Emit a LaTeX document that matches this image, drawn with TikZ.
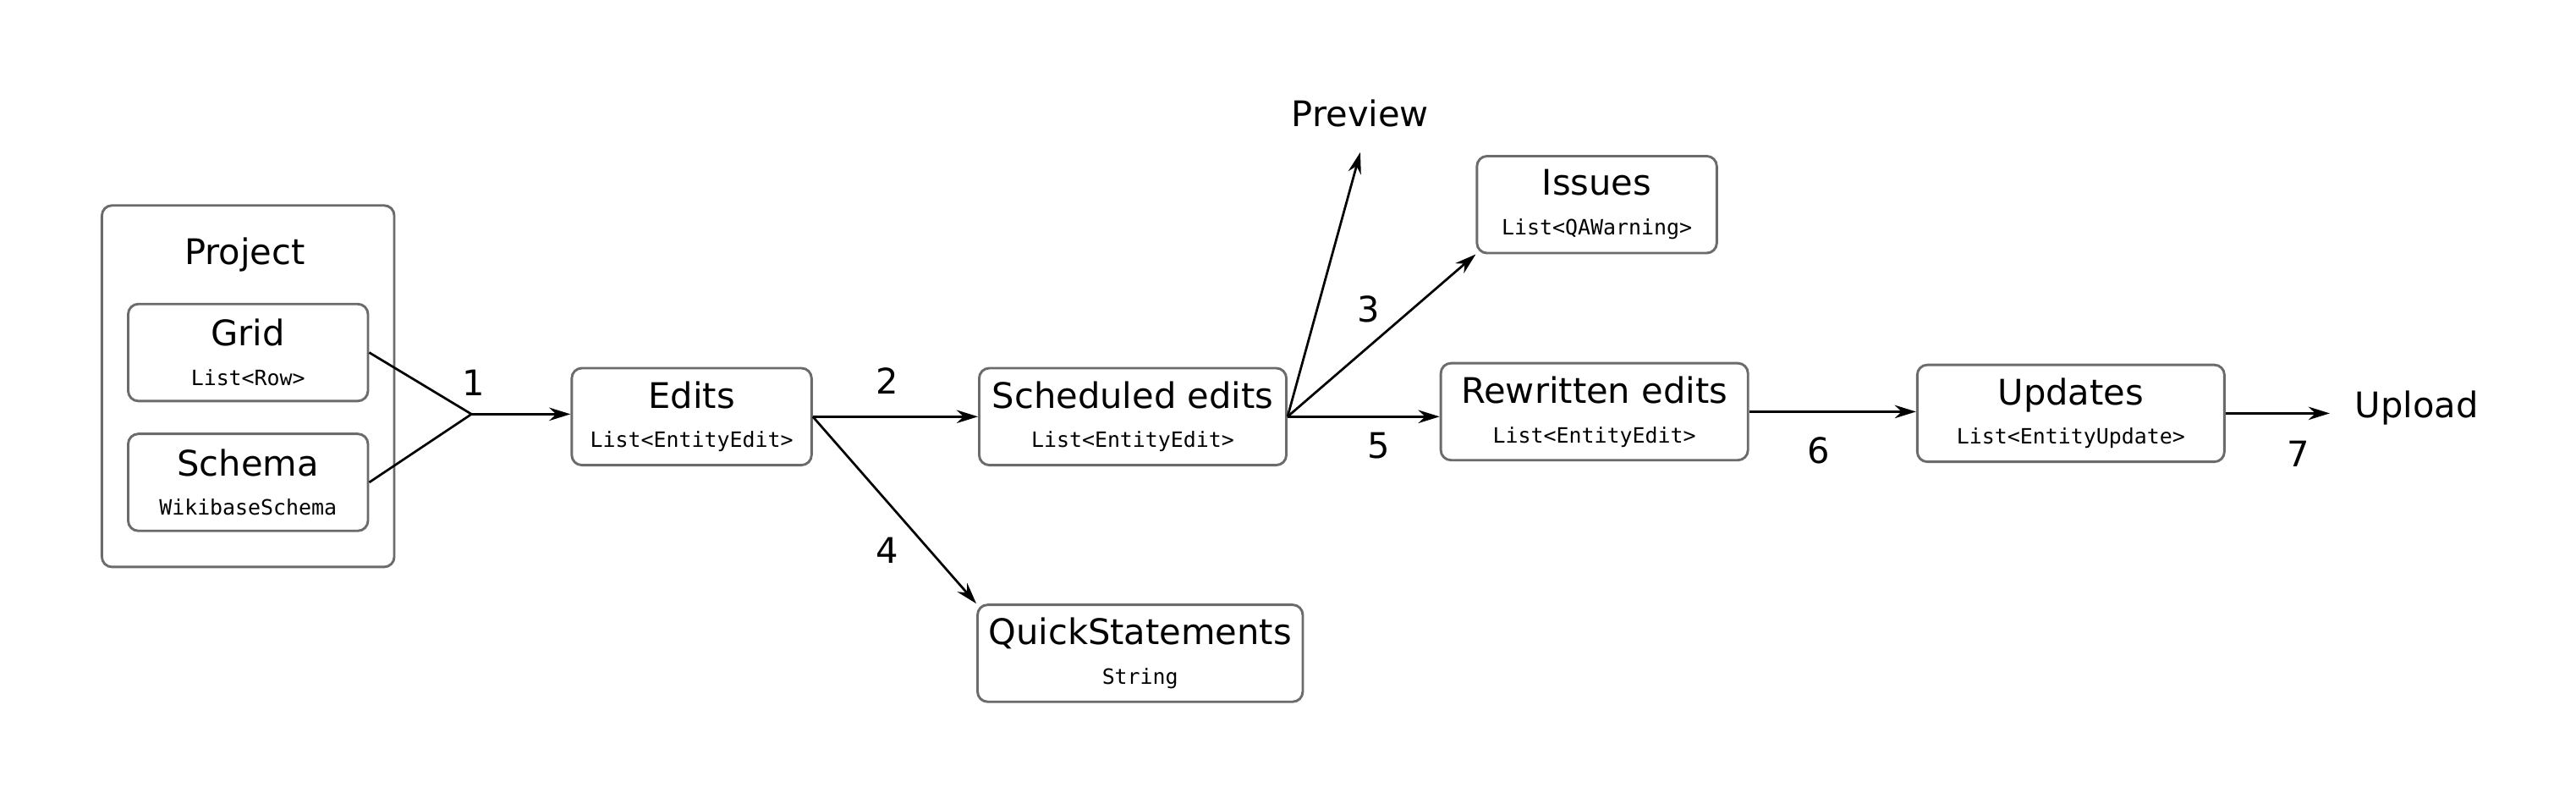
\documentclass[tikz,border=0pt]{standalone}
\usepackage{fontspec}
\setmainfont{DejaVu Sans}
\newfontfamily\typefont{DejaVu Sans Mono}
\usetikzlibrary{arrows.meta}
\newcommand{\typelabel}[1]{{\typefont\fontsize{7.3}{9}\selectfont #1}}
\tikzset{
  databox/.style={draw=black!58,line width=0.85pt,rounded corners=3.5pt,minimum width=2.92cm,minimum height=1.18cm,align=center,inner sep=0pt,font=\fontsize{12.2}{13.7}\selectfont},
  groupbox/.style={draw=black!58,line width=0.85pt,rounded corners=3.5pt},
  flow/.style={-{Stealth[length=2.6mm,width=1.6mm]},line width=0.8pt},
  link/.style={line width=0.8pt},
  num/.style={font=\fontsize{12.2}{14}\selectfont},
  endtext/.style={font=\fontsize{12.2}{14}\selectfont,inner sep=3mm}
}
\begin{document}
\begin{tikzpicture}[x=0.02cm,y=-0.02cm]
\useasboundingbox (0,0) rectangle (1568,489);

\node[groupbox,minimum width=3.56cm,minimum height=4.4cm] (project) at (151,235) {};
\node[num] (projecttitle) at (149,155) {Project};
\node[databox] (grid) at (151,214.5) {Grid\\\typelabel{List<Row>}};
\node[databox] (schema) at (151,293.5) {Schema\\\typelabel{WikibaseSchema}};

\node[databox] (edits) at (421,253.5) {Edits\\\typelabel{List<EntityEdit>}};
\node[databox,minimum width=3.74cm] (sched) at (689.5,253.5) {Scheduled edits\\\typelabel{List<EntityEdit>}};
\node[databox,minimum width=3.96cm] (qs) at (694,397.5) {QuickStatements\\\typelabel{String}};
\node[databox] (issues) at (972,124.5) {Issues\\\typelabel{List<QAWarning>}};
\node[databox,minimum width=3.74cm] (rewritten) at (970.5,250.5) {Rewritten edits\\\typelabel{List<EntityEdit>}};
\node[databox,minimum width=3.74cm] (updates) at (1260.5,251.5) {Updates\\\typelabel{List<EntityUpdate>}};
\node[endtext] (preview) at (828,69) {Preview};
\node[endtext] (upload) at (1471,248) {Upload};

\coordinate (join) at (287,252);
\draw[link] (grid.east) -- (join) -- (schema.east);
\draw[flow] (join) -- (join -| edits.west);
\draw[flow] (edits.east) -- (sched.west);
\draw[flow] (edits.east) -- (qs.north west);
\draw[flow] (sched.east) -- (preview.south);
\draw[flow] (sched.east) -- (issues.south west);
\draw[flow] (sched.east) -- (sched.east -| rewritten.west);
\draw[flow] (rewritten.east) -- (rewritten.east -| updates.west);
\draw[flow] (updates.east) -- (updates.east -| upload.west);

\node[num] (n1) at (288,233) {1};
\node[num] (n2) at (540,232) {2};
\node[num] (n3) at (833,188) {3};
\node[num] (n4) at (540,335) {4};
\node[num] (n5) at (839,271) {5};
\node[num] (n6) at (1107,274) {6};
\node[num] (n7) at (1399,276) {7};

\end{tikzpicture}
\end{document}
